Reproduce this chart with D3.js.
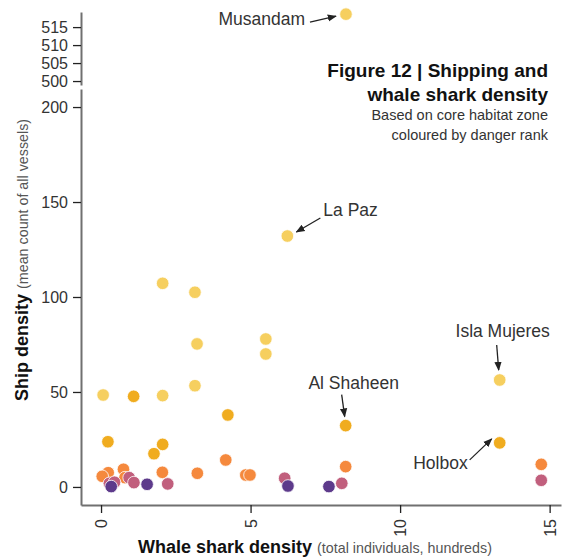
<!DOCTYPE html>
<html>
<head>
<meta charset="utf-8">
<script src="https://cdn.jsdelivr.net/npm/d3@7"></script>
<style>
body { margin: 0; background: #fff; }
svg { font-family: "Liberation Sans", Arial, sans-serif; }
</style>
</head>
<body>
<div id="chart"></div>
<script>
// whale shark density (hundreds) vs ship density, one entry per site
var sites = ["Musandam", "La Paz", "Isla Mujeres", "", "", "", "", "", "", "", "",
  "Al Shaheen", "Holbox", "", "", "", "", "",
  "", "", "", "", "", "", "", "", "", "", "",
  "", "", "", "", "", "", "", "",
  "", "", "", ""];
var sharkDensity = [8.19, 6.23, 13.33, 2.06, 3.14, 3.21, 5.51, 5.51, 0.07, 2.06, 3.14,
  8.18, 13.33, 1.09, 4.24, 0.23, 1.77, 2.06,
  4.17, 0.75, 0.24, 0.04, 0.8, 2.05, 3.22, 4.84, 4.98, 8.18, 14.72,
  0.94, 1.1, 0.28, 0.45, 2.23, 6.14, 8.05, 14.72,
  0.34, 1.54, 6.25, 7.62];
var shipDensity = [518.6, 132.1, 56.3, 107.2, 102.5, 75.3, 77.9, 70.0, 48.4, 48.1, 53.3,
  32.3, 23.2, 47.7, 37.9, 23.8, 17.5, 22.4,
  14.2, 9.3, 7.5, 5.6, 4.9, 7.7, 7.2, 6.3, 6.3, 10.7, 11.9,
  4.9, 2.3, 1.9, 2.5, 1.6, 4.6, 1.9, 3.5,
  0.2, 1.4, 0.5, 0.2];
var dangerRank = [1, 1, 1, 1, 1, 1, 1, 1, 1, 1, 1,
  2, 2, 2, 2, 2, 2, 2,
  3, 3, 3, 3, 3, 3, 3, 3, 3, 3, 3,
  4, 4, 4, 4, 4, 4, 4, 4,
  5, 5, 5, 5];
var rankColours = ["#f6cf5f", "#f0ac1f", "#f5893d", "#c15f7d", "#5d3a8b"];

var xTicks = [0, 5, 10, 15];
var yTicksLow = [0, 50, 100, 150, 200];
var yTicksHigh = [500, 505, 510, 515];

// label placement relative to the point: text offset, arrow start, arrow end
var labelNames = ["Musandam", "La Paz", "Isla Mujeres", "Al Shaheen", "Holbox"];
var labelAnchor = ["end", "start", "middle", "middle", "end"];
var labelOffset = [[-41, 11], [36, -20], [3, -43], [8, -37], [-32, 26]];
var arrowFrom = [[-36, 8], [33, -18], [-3, -35], [-4, -31], [-30, 17]];
var arrowTo = [[-10, 2], [9, -4], [-1, -10], [-1, -9], [-8, -4]];

var W = 564, H = 558;
var svg = d3.select("#chart").append("svg").attr("width", W).attr("height", H);

var x = d3.scaleLinear().domain([-0.67, 15.38]).range([81, 561]);
var yLow = d3.scaleLinear().domain([-9.5, 209.5]).range([505, 89]);
var yHigh = d3.scaleLinear().domain([498.9, 519.2]).range([85, 12]);
function yPos(v) { return v >= 300 ? yHigh(v) : yLow(v); }

svg.append("defs").append("marker")
  .attr("id", "arr")
  .attr("viewBox", "0 0 10 10")
  .attr("refX", 9).attr("refY", 5)
  .attr("markerWidth", 7).attr("markerHeight", 7)
  .attr("orient", "auto")
  .append("path").attr("d", "M0,1 L10,5 L0,9 Z").attr("fill", "#222");

function styleAxis(g) {
  g.selectAll(".domain").attr("stroke", "#707070").attr("stroke-width", 2);
  g.selectAll(".tick line").attr("stroke", "#222").attr("stroke-width", 1.3);
  g.selectAll(".tick text").attr("fill", "#333").style("font-size", "16px");
}

// lower y axis
svg.append("g")
  .attr("transform", "translate(81,0)")
  .call(d3.axisLeft(yLow).tickValues(yTicksLow).tickSize(8).tickPadding(5).tickSizeOuter(0))
  .call(styleAxis);

// broken upper y axis
svg.append("g")
  .attr("transform", "translate(81,0)")
  .call(d3.axisLeft(yHigh).tickValues(yTicksHigh).tickSize(8).tickPadding(5).tickSizeOuter(0))
  .call(styleAxis);

// x axis
var xg = svg.append("g")
  .attr("transform", "translate(0,505)")
  .call(d3.axisBottom(x).tickValues(xTicks).tickSize(8).tickSizeOuter(0))
  .call(styleAxis);
xg.selectAll(".tick text")
  .attr("transform", "rotate(-90)")
  .attr("text-anchor", "end")
  .attr("x", -14).attr("y", 0).attr("dy", "0.35em");

// points
var idx = d3.range(sharkDensity.length).sort(function (a, b) { return dangerRank[a] - dangerRank[b]; });
svg.append("g").selectAll("circle")
  .data(idx)
  .join("circle")
  .attr("cx", function (i) { return x(sharkDensity[i]); })
  .attr("cy", function (i) { return yPos(shipDensity[i]); })
  .attr("r", 6.3)
  .attr("fill", function (i) { return rankColours[dangerRank[i] - 1]; })
  .attr("stroke", "#fff")
  .attr("stroke-width", 0.8);

// annotations
labelNames.forEach(function (name, k) {
  var i = sites.indexOf(name);
  var px = x(sharkDensity[i]), py = yPos(shipDensity[i]);
  svg.append("text")
    .attr("x", px + labelOffset[k][0]).attr("y", py + labelOffset[k][1])
    .attr("text-anchor", labelAnchor[k])
    .attr("fill", "#333")
    .style("font-size", "17.5px")
    .text(name);
  svg.append("line")
    .attr("x1", px + arrowFrom[k][0]).attr("y1", py + arrowFrom[k][1])
    .attr("x2", px + arrowTo[k][0]).attr("y2", py + arrowTo[k][1])
    .attr("stroke", "#222").attr("stroke-width", 1.3)
    .attr("marker-end", "url(#arr)");
});

// title block
var tb = svg.append("g").attr("text-anchor", "end").attr("fill", "#111");
tb.append("text").attr("x", 548).attr("y", 77).style("font-size", "19px").style("font-weight", "bold").text("Figure 12 | Shipping and");
tb.append("text").attr("x", 548).attr("y", 101).style("font-size", "19px").style("font-weight", "bold").text("whale shark density");
tb.append("text").attr("x", 548).attr("y", 120).style("font-size", "14.5px").attr("fill", "#333").text("Based on core habitat zone");
tb.append("text").attr("x", 548).attr("y", 140).style("font-size", "14.5px").attr("fill", "#333").text("coloured by danger rank");

// axis titles
var xt = svg.append("text").attr("x", 138).attr("y", 553).attr("fill", "#111");
xt.append("tspan").style("font-size", "18px").style("font-weight", "bold").text("Whale shark density ");
xt.append("tspan").style("font-size", "14.3px").attr("fill", "#555").text("(total individuals, hundreds)");

var yt = svg.append("text")
  .attr("transform", "translate(28,401) rotate(-90)")
  .attr("fill", "#111");
yt.append("tspan").style("font-size", "18px").style("font-weight", "bold").text("Ship density ");
yt.append("tspan").style("font-size", "14.3px").attr("fill", "#555").text("(mean count of all vessels)");
</script>
</body>
</html>
